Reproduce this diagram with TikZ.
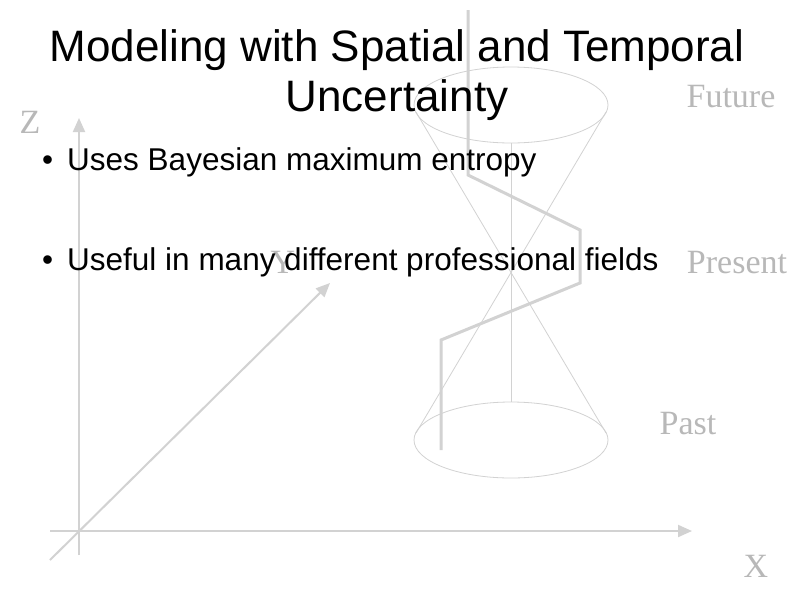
\documentclass[tikz,border=0pt]{standalone}
\usepackage{fontspec}
\setmainfont{Liberation Sans}
\newfontfamily\serifx{Liberation Serif}
\usetikzlibrary{arrows.meta}
\definecolor{lg}{HTML}{D2D2D2}
\definecolor{lt}{HTML}{B8B8B8}
\begin{document}
\begin{tikzpicture}[x=1pt,y=-1pt,
  thin line/.style={draw=lg,line width=0.8pt},
  thick line/.style={draw=lg,line width=3pt},
  axis/.style={draw=lg,line width=2pt,-{Triangle[length=14pt,width=12pt]}},
  lab/.style={text=lt,font=\serifx\fontsize{34}{36}\selectfont,inner sep=0pt},
  bul/.style={anchor=west,font=\fontsize{31.5}{36}\selectfont,inner sep=0pt}]
\useasboundingbox[fill=white] (0,0) rectangle (794,595);
% axes
\coordinate (zs) at (79,555); \coordinate (ze) at (79,118);
\coordinate (xs) at (50,531); \coordinate (xe) at (692,531);
\coordinate (ys) at (50,560); \coordinate (ye) at (330,283);
\draw[axis] (zs) -- (ze);
\draw[axis] (xs) -- (xe);
\draw[axis] (ys) -- (ye);
% cones
\draw[thin line] (511,105) ellipse [x radius=97,y radius=38];
\draw[thin line] (511,440) ellipse [x radius=97,y radius=38];
\coordinate (tl) at (416,112); \coordinate (tr) at (606,112);
\coordinate (bl) at (416,433); \coordinate (br) at (606,433);
\draw[thin line] (tl) -- (br);
\draw[thin line] (tr) -- (bl);
\coordinate (ct) at (511,143); \coordinate (cb) at (511,402);
\draw[thin line] (ct) -- (cb);
% world line
\coordinate (w1) at (468,10); \coordinate (w2) at (468,175);
\coordinate (w3) at (580,230); \coordinate (w4) at (580,283);
\coordinate (w5) at (441,340); \coordinate (w6) at (441,450);
\draw[thick line] (w1) -- (w2) -- (w3) -- (w4) -- (w5) -- (w6);
% labels
\node[lab] (fut) at (731,97) {Future};
\node[lab] (pre) at (737,263) {Present};
\node[lab] (pas) at (688,424) {Past};
\node[lab] (xl) at (756,566) {X};
\node[lab] (zl) at (30,122) {Z};
\node[lab] (yl) at (283,262) {Y};
% text
\node[font=\fontsize{44}{50}\selectfont,align=center,inner sep=0pt] (title) at (397,75) {Modeling with Spatial and Temporal\\Uncertainty};
\node[bul] (b1) at (42,162) {•\hspace{14pt}Uses Bayesian maximum entropy};
\node[bul] (b2) at (42,262) {•\hspace{14pt}Useful in many different professional fields};
\end{tikzpicture}
\end{document}
